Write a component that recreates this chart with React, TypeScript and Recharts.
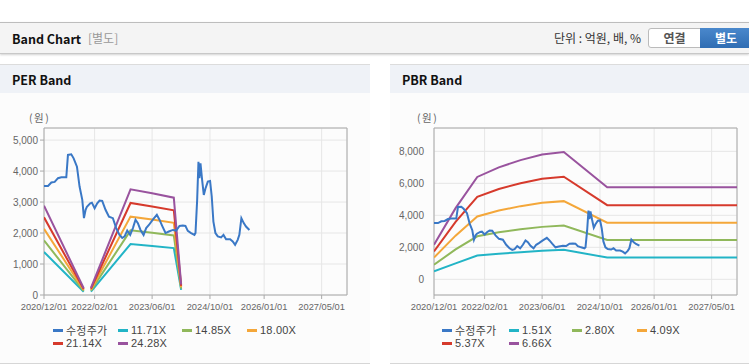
import React from "react";
import { LineChart, Line, XAxis, YAxis, CartesianGrid, ReferenceArea } from "recharts";

// x axis
const X_START = "2020-12-01";
const X_END = "2027-12-01";
const xTickDates = ["2020-12-01", "2022-02-01", "2023-06-01", "2024-10-01", "2026-01-01", "2027-05-01"];

// 수정주가 (adjusted price)
const priceDates = [
  "2020-12-01", "2021-01-04", "2021-02-01", "2021-03-01", "2021-03-29", "2021-04-26", "2021-06-07",
  "2021-06-21", "2021-07-19", "2021-08-08", "2021-09-05", "2021-09-27", "2021-10-20", "2021-11-03",
  "2021-11-17", "2021-11-28", "2021-12-26", "2022-01-09", "2022-02-01", "2022-02-23", "2022-03-15",
  "2022-04-06", "2022-05-04", "2022-06-02", "2022-07-05", "2022-08-02", "2022-08-30", "2022-09-22",
  "2022-10-12", "2022-11-03", "2022-11-28", "2022-12-21", "2023-01-12", "2023-02-01", "2023-02-23",
  "2023-03-21", "2023-04-12", "2023-05-05", "2023-06-07", "2023-07-11", "2023-08-02", "2023-08-25",
  "2023-09-22", "2023-10-20", "2023-11-23", "2023-12-21", "2024-01-18", "2024-02-15", "2024-03-08",
  "2024-03-28", "2024-04-25", "2024-05-23", "2024-06-01", "2024-06-15", "2024-06-26", "2024-07-04",
  "2024-07-13", "2024-07-27", "2024-08-10", "2024-08-24", "2024-09-13", "2024-10-02", "2024-10-16",
  "2024-10-30", "2024-11-16", "2024-12-06", "2025-01-03", "2025-01-23", "2025-02-14", "2025-03-20",
  "2025-04-11", "2025-05-01", "2025-05-23", "2025-06-06", "2025-06-23", "2025-07-13", "2025-08-01",
  "2025-08-30",
];
const priceValues = [
  3520, 3520, 3630, 3650, 3770, 3800, 3800,
  4520, 4540, 4410, 4140, 3500, 3070, 2480,
  2750, 2850, 2960, 2980, 2800, 2960, 3050,
  3040, 2750, 2530, 2480, 2160, 1940, 1840,
  1890, 2080, 1940, 2160, 2430, 2320, 2100,
  1940, 2160, 2260, 2430, 2590, 2430, 2230,
  2000, 2050, 2100, 2080, 2230, 2240, 2230,
  2070, 2000, 1940, 2000, 3070, 4300, 3770,
  4250, 3710, 3230, 3440, 3660, 3680, 3180,
  2370, 2000, 1890, 1860, 1940, 1800, 1800,
  1730, 1620, 1780, 1940, 2480, 2320, 2210,
  2100,
];

// PER band
const perDates = ["2020-12-01", "2021-11-01", "2021-12-01", "2022-01-01", "2022-12-01", "2023-06-01", "2023-12-01", "2024-02-01"];
const per1171 = [1389, 105, null, 111, 1645, 1583, 1515, 164];
const per1485 = [1761, 134, null, 141, 2086, 2008, 1922, 208];
const per1800 = [2135, 162, null, 171, 2529, 2434, 2329, 252];
const per2114 = [2507, 190, null, 201, 2970, 2858, 2736, 296];
const per2428 = [2880, 219, null, 231, 3411, 3283, 3142, 340];

// PBR band
const pbrDates = ["2020-12-01", "2021-06-01", "2021-12-01", "2022-06-01", "2022-12-01", "2023-06-01", "2023-12-01", "2024-12-01", "2027-12-01"];
const pbr151 = [500, 1000, 1490, 1600, 1700, 1790, 1850, 1360, 1360];
const pbr280 = [911, 1870, 2690, 2943, 3132, 3279, 3360, 2460, 2460];
const pbr409 = [1360, 2730, 3930, 4299, 4575, 4790, 4888, 3540, 3540];
const pbr537 = [1745, 3590, 5160, 5645, 6007, 6289, 6418, 4636, 4636];
const pbr666 = [2166, 4450, 6400, 7000, 7450, 7800, 7960, 5750, 5750];

const perYTicks = [0, 1000, 2000, 3000, 4000, 5000];
const pbrYTicks = [0, 2000, 4000, 6000, 8000];

const COLORS = {
  price: "#3a78c6",
  b1: "#22b4c6",
  b2: "#90b85b",
  b3: "#f4a73a",
  b4: "#d63a2c",
  b5: "#99539e",
};

const ts = (s: string) => Date.parse(s);
const pad = (n: number) => (n < 10 ? "0" + n : "" + n);
const fmtDate = (t: number) => {
  const d = new Date(t);
  return `${d.getUTCFullYear()}/${pad(d.getUTCMonth() + 1)}/${pad(d.getUTCDate())}`;
};
const toRows = (dates: string[], vals: (number | null)[]) => dates.map((s, i) => ({ t: ts(s), v: vals[i] }));

type Series = { name: string; color: string; rows: { t: number; v: number | null }[] };

const perSeries: Series[] = [
  { name: "11.71X", color: COLORS.b1, rows: toRows(perDates, per1171) },
  { name: "14.85X", color: COLORS.b2, rows: toRows(perDates, per1485) },
  { name: "18.00X", color: COLORS.b3, rows: toRows(perDates, per1800) },
  { name: "21.14X", color: COLORS.b4, rows: toRows(perDates, per2114) },
  { name: "24.28X", color: COLORS.b5, rows: toRows(perDates, per2428) },
  { name: "수정주가", color: COLORS.price, rows: toRows(priceDates, priceValues) },
];
const pbrSeries: Series[] = [
  { name: "1.51X", color: COLORS.b1, rows: toRows(pbrDates, pbr151) },
  { name: "2.80X", color: COLORS.b2, rows: toRows(pbrDates, pbr280) },
  { name: "4.09X", color: COLORS.b3, rows: toRows(pbrDates, pbr409) },
  { name: "5.37X", color: COLORS.b4, rows: toRows(pbrDates, pbr537) },
  { name: "6.66X", color: COLORS.b5, rows: toRows(pbrDates, pbr666) },
  { name: "수정주가", color: COLORS.price, rows: toRows(priceDates, priceValues) },
];

const NUM_FONT = "'Liberation Sans', Arial, sans-serif";
const KR_FONT = "'Noto Sans CJK KR', 'Liberation Sans', sans-serif";

function BandChart(props: {
  left: number;
  width: number;
  series: Series[];
  yDomain: [number, number];
  yTicks: number[];
  yTickMargin: number;
  showYTickLine: boolean;
  marginRight: number;
}) {
  const { left, width, series, yDomain, yTicks } = props;
  return (
    <div style={{ position: "absolute", left, top: 100 }}>
      <LineChart width={width} height={220} margin={{ top: 28, right: props.marginRight, left: 0, bottom: 5 }}>
        <CartesianGrid stroke="#e6e6e6" />
        <XAxis
          dataKey="t"
          type="number"
          domain={[ts(X_START), ts(X_END)]}
          ticks={xTickDates.map(ts)}
          tickFormatter={fmtDate}
          interval={0}
          allowDataOverflow
          height={20}
          axisLine={false}
          tickLine={{ stroke: "#aaa" }}
          tickSize={4}
          tickMargin={4}
          tick={{ fontSize: 9.3, fill: "#666", fontFamily: NUM_FONT }}
        />
        <YAxis
          type="number"
          domain={yDomain}
          ticks={yTicks}
          allowDataOverflow
          width={44}
          axisLine={false}
          tickLine={props.showYTickLine ? { stroke: "#aaa" } : false}
          tickSize={4}
          tickMargin={props.yTickMargin}
          tickFormatter={(v: number) => v.toLocaleString("en-US")}
          tick={{ fontSize: 10, fill: "#666", fontFamily: NUM_FONT }}
        />
        <ReferenceArea
          x1={ts(X_START)}
          x2={ts(X_END)}
          y1={yDomain[0]}
          y2={yDomain[1]}
          fill="none"
          fillOpacity={0}
          stroke="#aaa"
          strokeWidth={1}
        />
        {series.map((s) => (
          <Line
            key={s.name}
            data={s.rows}
            dataKey="v"
            name={s.name}
            type="linear"
            stroke={s.color}
            strokeWidth={2}
            dot={false}
            activeDot={false}
            isAnimationActive={false}
          />
        ))}
      </LineChart>
    </div>
  );
}

function LegendBlock(props: { items: { name: string; color: string }[]; cols: number[] }) {
  const rows = [330, 343];
  return (
    <>
      {props.items.map((it, i) => {
        const x = props.cols[i % 4];
        const y = rows[Math.floor(i / 4)];
        return (
          <div
            key={it.name}
            style={{ position: "absolute", left: x, top: y - 8, height: 16, display: "flex", alignItems: "center", whiteSpace: "nowrap" }}
          >
            <span style={{ display: "inline-block", width: 10, height: 3, background: it.color, marginRight: 3 }} />
            <span style={{ fontSize: 11, color: "#444", fontFamily: /[가-힣]/.test(it.name) ? KR_FONT : NUM_FONT, letterSpacing: 0.2 }}>
              {it.name}
            </span>
          </div>
        );
      })}
    </>
  );
}

function Panel(props: { left: number; width: number; title: string }) {
  return (
    <div
      style={{
        position: "absolute",
        left: props.left,
        top: 64,
        width: props.width,
        height: 298,
        borderTop: "1px solid #dcdcdc",
        borderBottom: "1px solid #d6d6d6",
        background: "#fcfcfc",
      }}
    >
      <div style={{ height: 28, background: "#eff2f7", position: "relative" }}>
        <span style={{ position: "absolute", left: 12, top: 5, fontSize: 12.5, fontWeight: 700, color: "#111", fontFamily: KR_FONT }}>
          {props.title}
        </span>
      </div>
    </div>
  );
}

export default function App() {
  const perLegend = [
    { name: "수정주가", color: COLORS.price },
    { name: "11.71X", color: COLORS.b1 },
    { name: "14.85X", color: COLORS.b2 },
    { name: "18.00X", color: COLORS.b3 },
    { name: "21.14X", color: COLORS.b4 },
    { name: "24.28X", color: COLORS.b5 },
  ];
  const pbrLegend = [
    { name: "수정주가", color: COLORS.price },
    { name: "1.51X", color: COLORS.b1 },
    { name: "2.80X", color: COLORS.b2 },
    { name: "4.09X", color: COLORS.b3 },
    { name: "5.37X", color: COLORS.b4 },
    { name: "6.66X", color: COLORS.b5 },
  ];
  return (
    <div style={{ position: "absolute", left: 0, top: 0, width: 749, height: 364, overflow: "hidden", background: "#fff", fontFamily: KR_FONT }}>
      {/* top bar */}
      <div
        style={{
          position: "absolute",
          left: 0,
          top: 22,
          width: 749,
          height: 30,
          background: "#f4f4f4",
          borderTop: "1px solid #bdbdbd",
          borderBottom: "1px solid #c8c8c8",
          boxShadow: "0 1px 2px rgba(0,0,0,0.18)",
        }}
      >
        <span style={{ position: "absolute", left: 12, top: 6, fontSize: 12.5, fontWeight: 700, color: "#111" }}>Band Chart</span>
        <span style={{ position: "absolute", left: 88, top: 6, fontSize: 12, color: "#999" }}>[별도]</span>
        <span style={{ position: "absolute", right: 108, top: 6, fontSize: 12, color: "#333" }}>단위 : 억원, 배, %</span>
        <div
          style={{
            position: "absolute",
            left: 648,
            top: 5,
            width: 51,
            height: 18,
            background: "#fff",
            border: "1px solid #bbb",
            borderRadius: "3px 0 0 3px",
            fontSize: 12,
            fontWeight: 700,
            color: "#555",
            textAlign: "center",
            lineHeight: "18px",
          }}
        >
          연결
        </div>
        <div
          style={{
            position: "absolute",
            left: 700,
            top: 5,
            width: 52,
            height: 20,
            background: "linear-gradient(#4a88cc, #2f6db3)",
            fontSize: 12,
            fontWeight: 700,
            color: "#fff",
            textAlign: "center",
            lineHeight: "20px",
          }}
        >
          별도
        </div>
      </div>

      <Panel left={0} width={370} title="PER Band" />
      <Panel left={390} width={359} title="PBR Band" />

      <span style={{ position: "absolute", left: 29, top: 110, fontSize: 10.5, color: "#666", letterSpacing: 1.5 }}>(원)</span>
      <span style={{ position: "absolute", left: 417, top: 110, fontSize: 10.5, color: "#666", letterSpacing: 1.5 }}>(원)</span>

      <BandChart
        left={0}
        width={370}
        series={perSeries}
        yDomain={[0, 5390]}
        yTicks={perYTicks}
        yTickMargin={2}
        showYTickLine={true}
        marginRight={23}
      />
      <BandChart
        left={390}
        width={359}
        series={pbrSeries}
        yDomain={[-980, 9460]}
        yTicks={pbrYTicks}
        yTickMargin={6}
        showYTickLine={false}
        marginRight={12}
      />

      <LegendBlock items={perLegend} cols={[53, 118, 182, 247]} />
      <LegendBlock items={pbrLegend} cols={[442, 509, 572, 637]} />
    </div>
  );
}
